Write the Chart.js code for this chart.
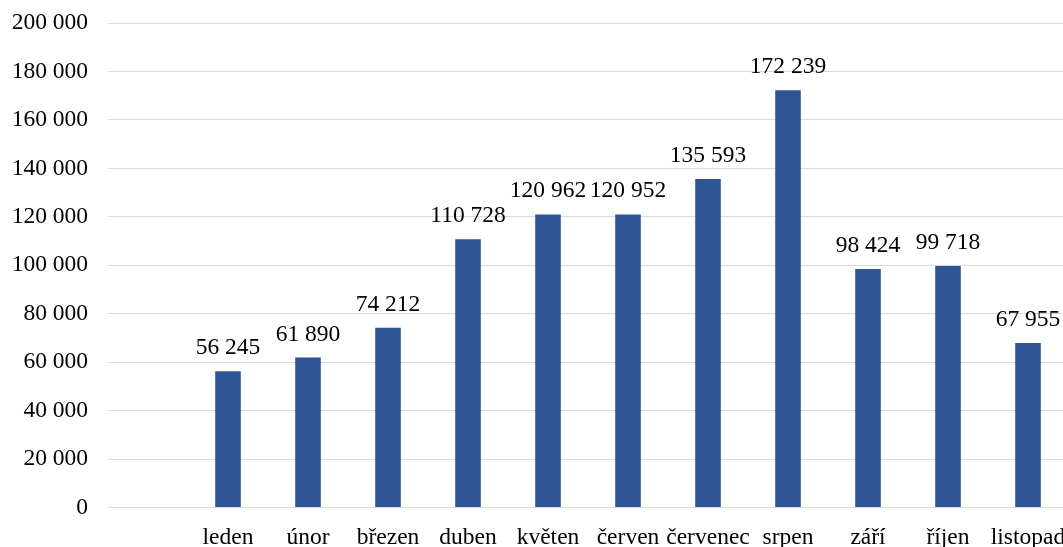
<!DOCTYPE html>
<html>
<head>
<meta charset="utf-8">
<script src="https://cdn.jsdelivr.net/npm/chart.js@4/dist/chart.umd.min.js"></script>
<style>
  html, body { margin: 0; padding: 0; background: #fff; overflow: hidden; }
  #wrap { width: 1068px; height: 547px; }
  #fontprobe { position: absolute; left: -9999px; top: 0; font-family: 'Liberation Serif'; font-size: 20px; }
</style>
</head>
<body>
<span id="fontprobe">0123456789 ledenúnorčř</span>
<div id="wrap"><canvas id="c" width="1068" height="547"></canvas></div>
<script>
// Monthly totals; the first slot on the axis is left empty
const months = ['', 'leden', 'únor', 'březen', 'duben', 'květen', 'červen', 'červenec', 'srpen', 'září', 'říjen', 'listopad'];
const visits = [null, 56245, 61890, 74212, 110728, 120962, 120952, 135593, 172239, 98424, 99718, 67955];
const yTicks = [0, 20000, 40000, 60000, 80000, 100000, 120000, 140000, 160000, 180000, 200000];

const FONT = "'Liberation Serif'";
const FS = 23.5;
const fmt = v => String(v).replace(/\B(?=(\d{3})+(?!\d))/g, ' ');

// Value labels above each bar
const valueLabels = {
  id: 'valueLabels',
  afterDatasetsDraw(chart) {
    const ctx = chart.ctx;
    const meta = chart.getDatasetMeta(0);
    ctx.save();
    ctx.font = FS + 'px ' + FONT;
    ctx.fillStyle = '#000';
    ctx.textAlign = 'center';
    ctx.textBaseline = 'alphabetic';
    meta.data.forEach((bar, i) => {
      const v = visits[i];
      if (v == null) return;
      ctx.fillText(fmt(v), bar.x, bar.y - 17);
    });
    ctx.restore();
  }
};

function draw() {
  new Chart(document.getElementById('c'), {
    type: 'bar',
    data: {
      labels: months,
      datasets: [{
        data: visits,
        backgroundColor: '#2F5597',
        borderWidth: 0,
        categoryPercentage: 1,
        barPercentage: 0.32
      }]
    },
    options: {
      responsive: false,
      animation: false,
      layout: { padding: { top: 23, right: 0, left: 0, bottom: 0 } },
      plugins: { legend: { display: false }, tooltip: { enabled: false } },
      scales: {
        x: {
          grid: { display: false, drawTicks: false },
          border: { display: true, color: '#d9d9d9', width: 1 },
          ticks: {
            font: { family: FONT, size: FS },
            color: '#000',
            padding: 16,
            maxRotation: 0,
            autoSkip: false
          },
          afterFit(scale) { scale.height = 39.5; scale.paddingLeft = 0; scale.paddingRight = 0; }
        },
        y: {
          min: 0,
          max: 200000,
          grid: { color: '#d9d9d9', lineWidth: 1, drawTicks: false },
          border: { display: false },
          afterBuildTicks(scale) { scale.ticks = yTicks.map(v => ({ value: v })); },
          ticks: {
            font: { family: FONT, size: FS },
            color: '#000',
            padding: 20,
            callback: v => fmt(v)
          },
          afterFit(scale) { scale.width = 108; scale.paddingTop = 0; scale.paddingBottom = 0; }
        }
      }
    },
    plugins: [valueLabels]
  });
}

if (document.fonts && document.fonts.load) {
  document.fonts.load(FS + "px 'Liberation Serif'").then(draw, draw);
} else {
  draw();
}
</script>
</body>
</html>
